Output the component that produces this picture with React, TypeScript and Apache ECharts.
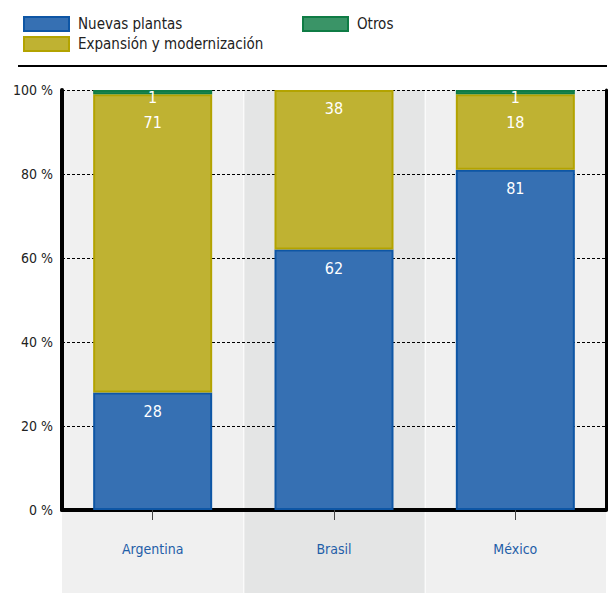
import React, { useEffect, useRef } from "react";
import * as echarts from "echarts";

const countries = ["Argentina", "Brasil", "México"];
const nuevasPlantas = [28, 62, 81];
const expansion = [71, 38, 18];
const otros = [1, 0, 1];
const yTicks = [0, 20, 40, 60, 80, 100];

const FONT = '"Liberation Sans Narrow", "DejaVu Sans Condensed", "Roboto", sans-serif';
const bandColors = ["#f0f0f0", "#e4e5e5", "#f0f0f0"];

export default function App() {
  const ref = useRef<HTMLDivElement>(null);

  useEffect(() => {
    if (!ref.current) return;
    const chart = echarts.init(ref.current, null, { renderer: "svg" });

    const valueLabel = (distance: number) => ({
      show: true,
      position: "insideTop",
      distance,
      color: "#ffffff",
      fontFamily: FONT,
      fontSize: 16,
      formatter: (p: any) => (p.value ? String(p.value) : ""),
    });

    const legendText = { fontFamily: FONT, fontSize: 15, color: "#222", padding: [0, 0, 0, 4] };

    // Middle segments sit lower under a green cap than under the bar's own top edge
    const expansionData = expansion.map((v, i) => ({
      value: v,
      label: { distance: otros[i] ? 20 : 10 },
    }));

    chart.setOption({
      animation: false,
      textStyle: { fontFamily: FONT },
      legend: [
        {
          left: 18,
          top: 11,
          orient: "vertical",
          icon: "rect",
          itemWidth: 45,
          itemHeight: 14,
          itemGap: 4,
          data: ["Nuevas plantas", "Expansión y modernización"],
          textStyle: legendText,
          selectedMode: false,
        },
        {
          left: 297,
          top: 11,
          orient: "vertical",
          icon: "rect",
          itemWidth: 45,
          itemHeight: 14,
          data: ["Otros"],
          textStyle: legendText,
          selectedMode: false,
        },
      ],
      grid: { left: 62, right: 5, top: 90, bottom: 84, containLabel: false },
      xAxis: {
        type: "category",
        data: countries,
        axisLine: { show: true, lineStyle: { color: "#000", width: 4 } },
        axisTick: {
          show: true,
          alignWithLabel: true,
          length: 10,
          lineStyle: { color: "#444", width: 1 },
        },
        axisLabel: {
          margin: 32,
          color: "#1f5ea8",
          fontFamily: FONT,
          fontSize: 14,
        },
        splitLine: { show: false },
      },
      yAxis: [
        {
          type: "value",
          min: yTicks[0],
          max: yTicks[yTicks.length - 1],
          interval: 20,
          axisLine: { show: true, lineStyle: { color: "#000", width: 4 } },
          axisTick: { show: false },
          axisLabel: {
            margin: 9,
            color: "#222",
            fontFamily: FONT,
            fontSize: 14,
            formatter: (v: number) => `${v} %`,
          },
          splitLine: {
            show: true,
            lineStyle: { color: "#000", width: 1, type: [3, 2] },
          },
        },
        {
          type: "value",
          position: "right",
          min: 0,
          max: 100,
          interval: 20,
          axisLine: { show: true, lineStyle: { color: "#000", width: 3 } },
          axisTick: { show: false },
          axisLabel: { show: false },
          splitLine: { show: false },
        },
      ],
      series: [
        {
          name: "Nuevas plantas",
          type: "bar",
          stack: "total",
          barWidth: 119,
          data: nuevasPlantas,
          itemStyle: { color: "#3670b3", borderColor: "#0e56a5", borderWidth: 2 },
          label: valueLabel(11),
        },
        {
          name: "Expansión y modernización",
          type: "bar",
          stack: "total",
          barWidth: 119,
          data: expansionData,
          itemStyle: { color: "#bfb232", borderColor: "#b3a300", borderWidth: 2 },
          label: valueLabel(15),
        },
        {
          name: "Otros",
          type: "bar",
          stack: "total",
          barWidth: 119,
          // a zero share draws no segment at all
          data: otros.map((v) => (v ? v : null)),
          itemStyle: { color: "#3a9467", borderColor: "#0f7c45", borderWidth: 2 },
          label: valueLabel(-1),
        },
      ],
    });

    // Column background bands, running from the top of the plot down past the category labels
    const grid = (chart as any).getModel().getComponent("grid").coordinateSystem.getRect();
    const step = grid.width / countries.length;
    const bands = countries.map((_, i) => ({
      type: "rect",
      z: -10,
      silent: true,
      shape: {
        x: grid.x + i * step + (i === 0 ? 0 : 1),
        y: grid.y,
        width: step - (i === 0 ? 0 : 1),
        height: 593 - grid.y,
      },
      style: { fill: bandColors[i] },
    }));

    chart.setOption({
      graphic: [
        ...bands,
        {
          type: "line",
          z: 10,
          shape: { x1: 18, y1: 66, x2: 607, y2: 66 },
          style: { stroke: "#000", lineWidth: 2 },
        },
      ],
    });

    return () => chart.dispose();
  }, []);

  return (
    <div
      ref={ref}
      style={{ position: "absolute", left: 0, top: 0, width: 611, height: 594 }}
    />
  );
}
